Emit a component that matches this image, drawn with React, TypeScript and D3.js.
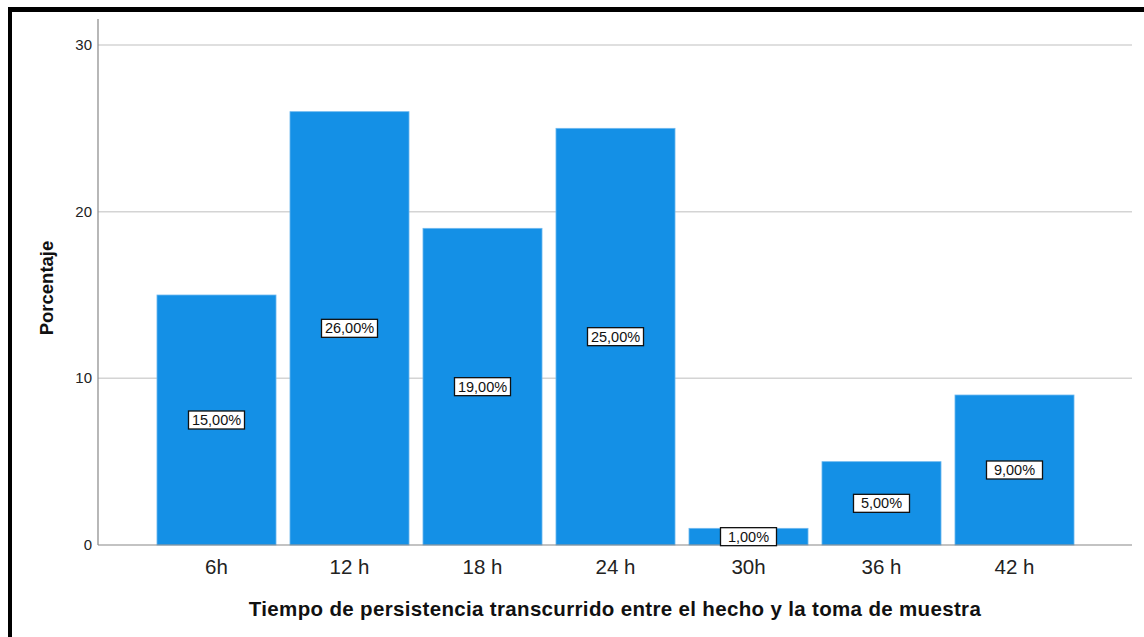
import * as d3 from "d3";
import React, { useRef, useEffect } from "react";

const categories = ["6h", "12 h", "18 h", "24 h", "30h", "36 h", "42 h"];
const percentages = [15, 26, 19, 25, 1, 5, 9];
const yTicks = [0, 10, 20, 30];

const width = 1144;
const height = 637;
const font = "Arial, Liberation Sans, sans-serif";

function BarChart() {
  const ref = useRef<SVGSVGElement>(null);

  useEffect(() => {
    const svg = d3.select(ref.current);
    svg.selectAll("*").remove();

    const axisLeft = 98;
    const axisRight = 1132;

    const xScale = d3
      .scaleBand()
      .domain(categories)
      .range([150, 1081])
      .paddingInner(0.105)
      .paddingOuter(0.0525);

    const yScale = d3.scaleLinear().domain([0, 30]).range([545, 45]);

    // frame (top + left only)
    svg.append("rect").attr("x", 8).attr("y", 7).attr("width", width - 8).attr("height", 5).attr("fill", "#000");
    svg.append("rect").attr("x", 8).attr("y", 7).attr("width", 4).attr("height", height - 7).attr("fill", "#000");

    // gridlines
    svg
      .selectAll(".grid")
      .data(yTicks.filter((d) => d > 0))
      .join("line")
      .attr("x1", axisLeft)
      .attr("x2", axisRight)
      .attr("y1", (d) => yScale(d))
      .attr("y2", (d) => yScale(d))
      .attr("stroke", "#d4d4d4")
      .attr("stroke-width", 1.5);

    // bars
    svg
      .selectAll(".bar")
      .data(percentages)
      .join("rect")
      .attr("x", (d, i) => xScale(categories[i])!)
      .attr("width", xScale.bandwidth())
      .attr("y", (d) => yScale(d))
      .attr("height", (d) => yScale(0) - yScale(d))
      .attr("fill", "#1490e6")
      .attr("stroke", "#6fb9ef")
      .attr("stroke-width", 0.8);

    // axes
    svg.append("line").attr("x1", axisLeft).attr("x2", axisLeft).attr("y1", 19).attr("y2", 545).attr("stroke", "#888").attr("stroke-width", 1.2);
    svg.append("line").attr("x1", axisLeft).attr("x2", axisRight).attr("y1", 545).attr("y2", 545).attr("stroke", "#888").attr("stroke-width", 1.2);

    svg
      .selectAll(".ytick")
      .data(yTicks)
      .join("text")
      .attr("x", 92)
      .attr("y", (d) => yScale(d) + 5)
      .attr("text-anchor", "end")
      .attr("font-family", font)
      .attr("font-size", 15)
      .attr("fill", "#222")
      .text((d) => d);

    svg
      .selectAll(".xtick")
      .data(categories)
      .join("text")
      .attr("x", (d) => xScale(d)! + xScale.bandwidth() / 2)
      .attr("y", 574)
      .attr("text-anchor", "middle")
      .attr("font-family", font)
      .attr("font-size", 20.5)
      .attr("fill", "#222")
      .text((d) => d);

    // value labels
    const labels = svg
      .selectAll(".lbl")
      .data(percentages)
      .join("g")
      .attr("transform", (d, i) => `translate(${xScale(categories[i])! + xScale.bandwidth() / 2}, ${(yScale(d) + yScale(0)) / 2})`);
    labels
      .append("rect")
      .attr("x", -28)
      .attr("y", -9)
      .attr("width", 56)
      .attr("height", 18)
      .attr("fill", "#fff")
      .attr("stroke", "#111")
      .attr("stroke-width", 1.3);
    labels
      .append("text")
      .attr("y", 5)
      .attr("text-anchor", "middle")
      .attr("font-family", font)
      .attr("font-size", 14.5)
      .attr("fill", "#111")
      .text((d) => d.toFixed(2).replace(".", ",") + "%");

    // titles
    svg
      .append("text")
      .attr("x", 615)
      .attr("y", 616)
      .attr("text-anchor", "middle")
      .attr("font-family", font)
      .attr("font-size", 20.5)
      .attr("font-weight", "bold")
      .attr("letter-spacing", 0.34)
      .attr("fill", "#111")
      .text("Tiempo de persistencia transcurrido entre el hecho y la toma de muestra");

    svg
      .append("text")
      .attr("transform", "translate(53, 288) rotate(-90)")
      .attr("text-anchor", "middle")
      .attr("font-family", font)
      .attr("font-size", 18.5)
      .attr("font-weight", "bold")
      .attr("fill", "#111")
      .text("Porcentaje");
  }, []);

  return <svg ref={ref} width={width} height={height} style={{ display: "block" }}></svg>;
}

export default function App() {
  return (
    <div style={{ position: "absolute", left: 0, top: 0, background: "#fff" }}>
      <BarChart />
    </div>
  );
}
